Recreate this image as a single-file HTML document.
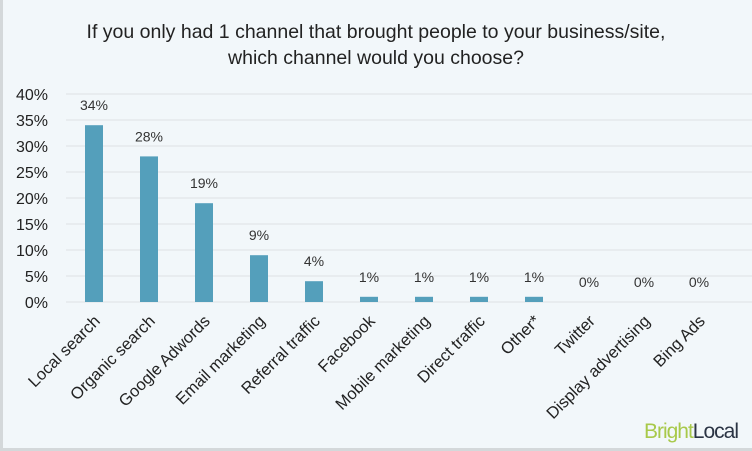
<!DOCTYPE html>
<html><head><meta charset="utf-8"><style>
body{margin:0;background:#f2f7fa;}
svg{display:block;font-family:"Liberation Sans",sans-serif;}
</style></head><body>
<svg width="752" height="451">
<rect x="0" y="0" width="752" height="451" fill="#f2f7fa"/>
<rect x="0" y="0" width="3" height="451" fill="#d4d8da"/>
<rect x="0" y="448" width="752" height="3" fill="#d4d8da"/>
<text x="376" y="38" text-anchor="middle" font-size="19.5" fill="#222">If you only had 1 channel that brought people to your business/site,</text>
<text x="376" y="64" text-anchor="middle" font-size="19.5" fill="#222">which channel would you choose?</text>
<g id="grid"></g><g id="bars"></g><g id="labels"></g>
<text x="738" y="438" text-anchor="end" font-size="21" letter-spacing="-1"><tspan fill="#a8c94a">Bright</tspan><tspan fill="#2b3444">Local</tspan></text>
</svg>
<script>
const categories=["Local search","Organic search","Google Adwords","Email marketing","Referral traffic","Facebook","Mobile marketing","Direct traffic","Other*","Twitter","Display advertising","Bing Ads"];
const values=[34,28,19,9,4,1,1,1,1,0,0,0];
const ticks=[0,5,10,15,20,25,30,35,40];
const NS="http://www.w3.org/2000/svg";
const y0=302,pxPer=5.2,x0=94,step=55,bw=18;
const y=v=>y0-v*pxPer, x=i=>x0+i*step;
function mk(t,a,p){const e=document.createElementNS(NS,t);for(const k in a)e.setAttribute(k,a[k]);p.appendChild(e);return e;}
const g=document.getElementById('grid'),b=document.getElementById('bars'),l=document.getElementById('labels');
ticks.forEach(t=>{
 const ln=mk('line',{x1:66,x2:752,y1:y(t),y2:y(t),stroke:'#dfe2e4','stroke-width':1},g);
 
 
 const tx=mk('text',{x:48,y:y(t)+6,'text-anchor':'end','font-size':16,fill:'#222'},g);
 tx.textContent=t+'%';
 
 
});
categories.forEach((c,i)=>{
 const r=mk('rect',{x:x(i)-bw/2,y:y(values[i]),width:bw,height:values[i]*pxPer,fill:'#549fbb'},b);
 
 
 const v=mk('text',{x:x(i),y:y(values[i])-15,'text-anchor':'middle','font-size':14,fill:'#333'},l);
 v.textContent=values[i]+'%';
 
 
 const c2=mk('text',{x:x(i)+7,y:322,'text-anchor':'end','font-size':16.5,fill:'#222',transform:`rotate(-45 ${x(i)+7} 322)`},l);
 c2.textContent=c;
 
 
});
</script>
</body></html>
